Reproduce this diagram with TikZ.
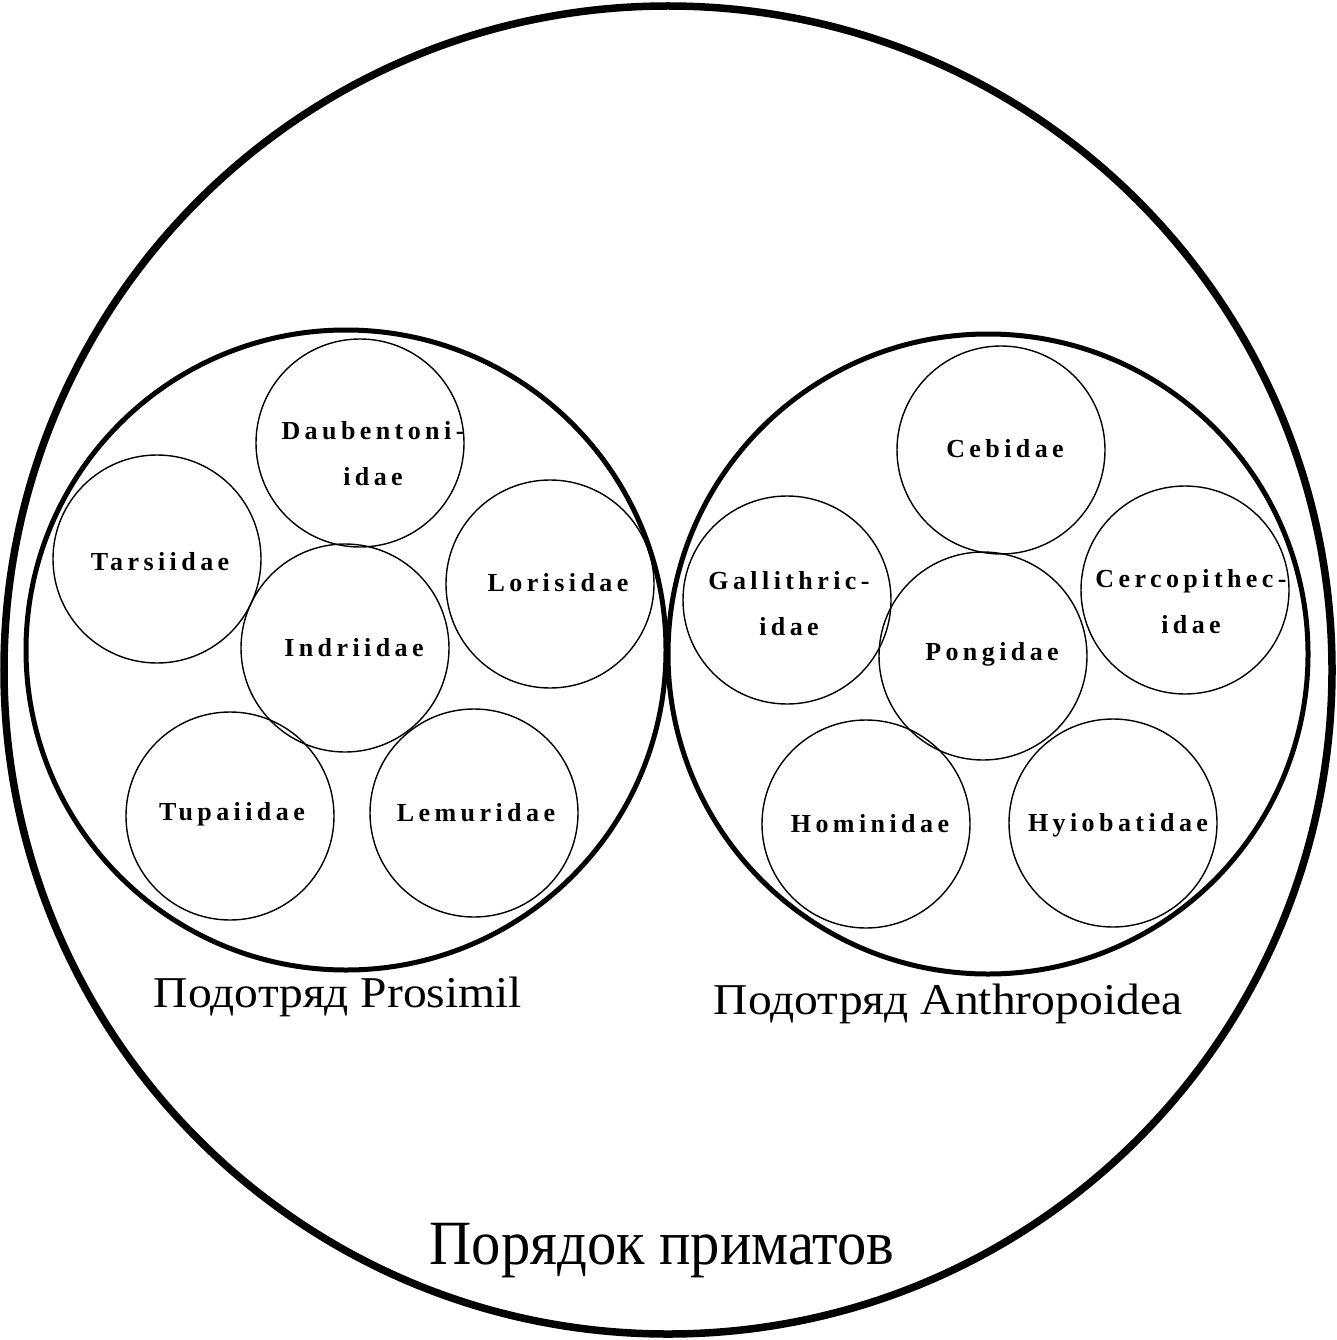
\documentclass[tikz,border=0pt]{standalone}
\usepackage{fontspec}
\usetikzlibrary{calc}
\setmainfont{Liberation Serif}
\newfontfamily\famfont[LetterSpace=17]{Liberation Serif}
\begin{document}
\begin{tikzpicture}[x=1pt,y=-1pt,
  order/.style={circle,draw,line width=7.5pt,minimum size=1328pt,inner sep=0pt},
  suborder/.style={circle,draw,line width=5pt,minimum size=640pt,inner sep=0pt},
  family/.style={circle,draw,line width=1.4pt,minimum size=208pt,inner sep=0pt},
  famtext/.style={font=\famfont\bfseries\fontsize{26}{46}\selectfont,align=center,inner sep=0pt},
  biglabel/.style={font=\fontsize{44}{50}\selectfont,xscale=1.08},
  titlelabel/.style={font=\fontsize{63}{70}\selectfont,xscale=0.93}]
\useasboundingbox (0,0) rectangle (1336,1340);
\node[order] (primates) at (668,670) {};
\node[suborder] (prosimii) at (346,650) {};
\node[suborder] (anthro) at (988,654) {};
% Prosimii families
\node[family] (daub) at (360,443) {};
\node[family] (tars) at (157,559) {};
\node[family] (loris) at (550,584) {};
\node[family] (indri) at (345,648) {};
\node[family] (tupai) at (230,816) {};
\node[family] (lemur) at (474,813) {};
% Anthropoidea families
\node[family] (cebid) at (1001,450) {};
\node[family] (galli) at (787,600) {};
\node[family] (cerco) at (1185,590) {};
\node[family] (pongi) at (983,656) {};
\node[family] (homin) at (866,824) {};
\node[family] (hylob) at (1113,823) {};
% family names
\node[famtext] (daubt) at ($(daub.center)+(13,11)$) {Daubentoni-\\idae};
\node[famtext] (tarst) at ($(tars.center)+(3,3)$) {Tarsiidae};
\node[famtext] (lorist) at ($(loris.center)+(8,-1)$) {Lorisidae};
\node[famtext] (indrit) at ($(indri.center)+(9,0)$) {Indriidae};
\node[famtext] (tupait) at ($(tupai.center)+(2,-2)$) {Tupaiidae};
\node[famtext] (lemurt) at ($(lemur.center)+(2,0)$) {Lemuridae};
\node[famtext] (cebidt) at ($(cebid.center)+(4,-1)$) {Cebidae};
\node[famtext] (gallit) at ($(galli.center)+(2,4)$) {Gallithric-\\idae};
\node[famtext] (cercot) at ($(cerco.center)+(6,12)$) {Cercopithec-\\idae};
\node[famtext] (pongit) at ($(pongi.center)+(9,-2)$) {Pongidae};
\node[famtext] (hominit) at ($(homin.center)+(4,0)$) {Hominidae};
\node[famtext] (hylobt) at ($(hylob.center)+(5,2)$) {Hyiobatidae};
% labels
\node[biglabel] (lprosimii) at (338,997) {Подотряд Prosimil};
\node[biglabel] (lanthro) at (948,1004) {Подотряд Anthropoidea};
\node[titlelabel] (lorder) at (662,1251) {Порядок приматов};
\end{tikzpicture}
\end{document}
